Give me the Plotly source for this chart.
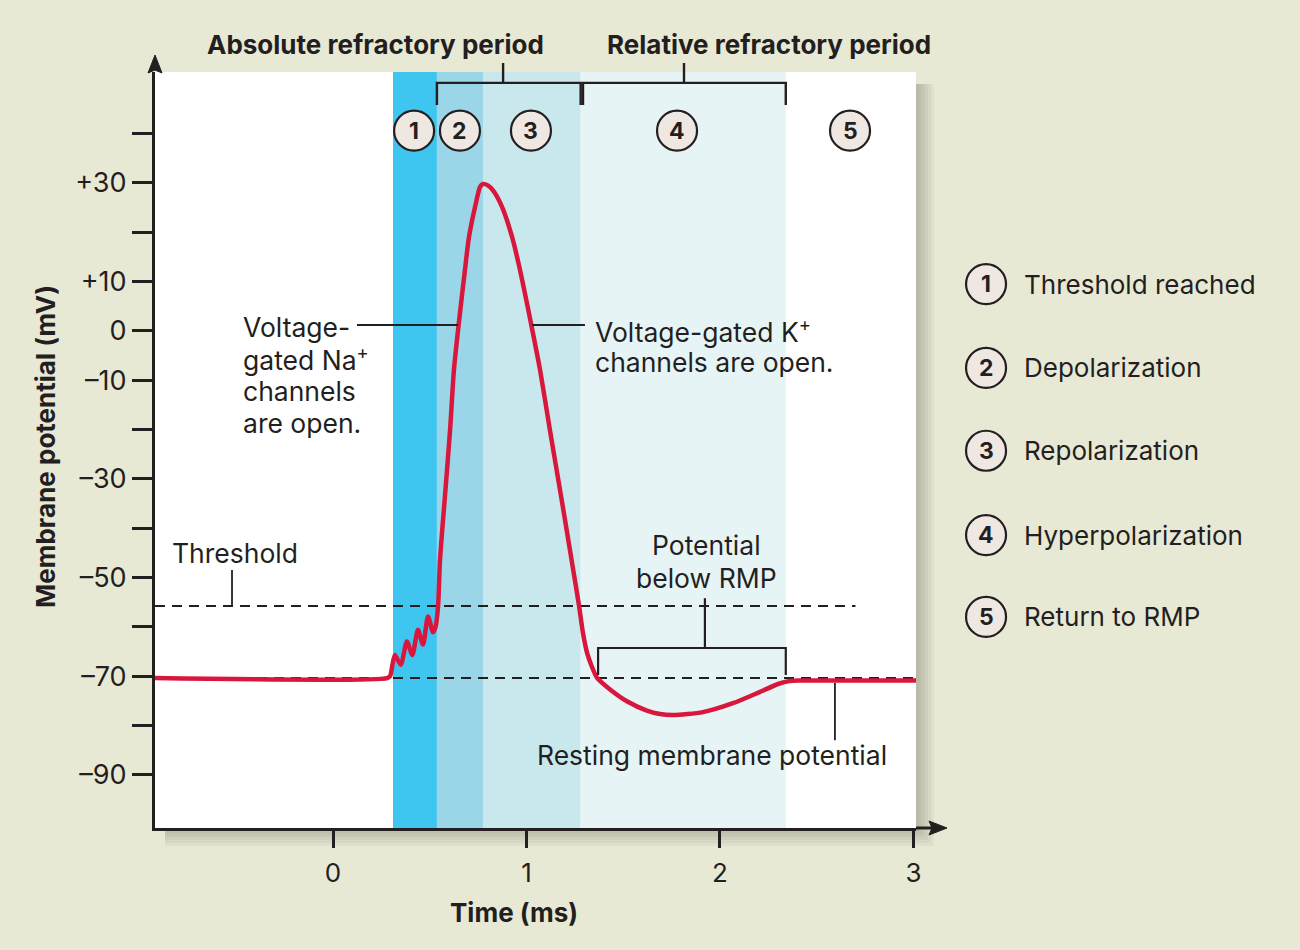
import plotly.graph_objects as go

# ---------------- data ----------------
time_ms = [-0.92, 0.28, 0.295, 0.308, 0.320, 0.350, 0.382, 0.410, 0.439, 0.465, 0.491, 0.517,
           0.530, 0.543, 0.553, 0.579, 0.605, 0.625, 0.648, 0.682, 0.703, 0.739, 0.760, 0.775,
           0.800, 0.827, 0.873, 0.925, 0.961, 1.028, 1.070, 1.121, 1.182, 1.239, 1.271, 1.292,
           1.313, 1.339, 1.364, 1.432, 1.519, 1.622, 1.690, 1.757, 1.912, 2.067, 2.207, 2.300,
           2.360, 2.420, 3.013]
membrane_mv = [-70.4, -70.4, -70.0, -67.5, -65.7, -67.7, -63.0, -65.7, -60.6, -63.6, -57.9, -61.1,
               -60.0, -55.8, -46.4, -33.3, -20.1, -7.9, 0.8, 12.4, 19.1, 26.0, 29.2, 29.8,
               29.5, 28.5, 25.2, 19.1, 13.3, 0.6, -7.9, -20.1, -34.3, -47.9, -55.6, -61.3,
               -65.3, -68.2, -70.3, -72.7, -75.1, -77.0, -77.7, -77.9, -77.3, -75.5, -73.2, -71.6,
               -71.0, -70.9, -70.9]

threshold_mv = -55.8
rmp_mv = -70.4

band_edges = [0.31, 0.537, 0.775, 1.28, 2.34]
band_colors = ["#3ec6f1", "#9ad6e8", "#c8e8ee", "#e6f4f6"]

phase_numbers = ["1", "2", "3", "4", "5"]
phase_x = [0.419, 0.656, 1.023, 1.778, 2.672]
phase_labels = ["Threshold reached", "Depolarization", "Repolarization",
                "Hyperpolarization", "Return to RMP"]

ytick_vals = [-90, -70, -50, -30, -10, 0, 10, 30]
ytick_text = ["\u201390", "\u201370", "\u201350", "\u201330", "\u201310", "0", "+10", "+30"]
ytick_minor = [-80, -60, -40, -20, 20, 40]
xtick_vals = [0, 1, 2, 3]

# ---------------- layout constants ----------------
W, H = 1300, 950
ML, MR, MT, MB = 155, 384, 72, 122
XR = [-0.92, 3.013]
YR = [-100.8, 52.5]
PW = W - ML - MR
PH = H - MT - MB

FONT = "Inter"
INK = "#231f20"
RED = "#d9173d"
BG = "#e8e9d5"
CIRCLE_FILL = "#efe8e2"


def fx(x):
    return (x - XR[0]) / (XR[1] - XR[0])


def fy(y):
    return (y - YR[0]) / (YR[1] - YR[0])


def dpx(p):  # pixel offset -> paper fraction (x)
    return p / PW


def dpy(p):
    return p / PH


fig = go.Figure()
shapes = []
annos = []

# drop shadow + white panel (paper-level, below)
for d in [3, 6, 9, 12, 15, 18]:
    shapes.append(dict(type="rect", xref="paper", yref="paper",
                       x0=dpx(10), x1=1 + dpx(d), y0=-dpy(d), y1=1 - dpy(12),
                       fillcolor="rgba(90,90,60,0.06)", line_width=0, layer="below"))
shapes.append(dict(type="rect", xref="paper", yref="paper", x0=0, x1=1, y0=0, y1=1,
                   fillcolor="white", line_width=0, layer="below"))

# phase bands
for i, c in enumerate(band_colors):
    shapes.append(dict(type="rect", xref="x", yref="paper", x0=band_edges[i], x1=band_edges[i + 1],
                       y0=0, y1=1, fillcolor=c, line_width=0, layer="below"))

# dashed reference lines
fig.add_trace(go.Scatter(x=[XR[0], 2.70], y=[threshold_mv, threshold_mv], mode="lines",
                         line=dict(color=INK, width=2, dash="10px,7px"), hoverinfo="skip"))
fig.add_trace(go.Scatter(x=[XR[0], XR[1]], y=[rmp_mv, rmp_mv], mode="lines",
                         line=dict(color=INK, width=2, dash="10px,7px"), hoverinfo="skip"))

# action potential
fig.add_trace(go.Scatter(x=time_ms, y=membrane_mv, mode="lines",
                         line=dict(color=RED, width=4.5, shape="spline", smoothing=0.7),
                         hoverinfo="skip"))


def circled(xp, yp, label):
    r = 20
    shapes.append(dict(type="circle", xref="paper", yref="paper",
                       x0=xp - dpx(r), x1=xp + dpx(r), y0=yp - dpy(r), y1=yp + dpy(r),
                       fillcolor=CIRCLE_FILL, line=dict(color=INK, width=2.2), layer="above"))
    annos.append(dict(x=xp, y=yp, xref="paper", yref="paper", text=f"<b>{label}</b>",
                      showarrow=False, xanchor="center", yanchor="middle",
                      font=dict(family=FONT, size=23, color=INK)))


# circled phase numbers in the plot
for n, xx in zip(phase_numbers, phase_x):
    circled(fx(xx), fy(40.6), n)

# legend (right side)
leg_y = [9.5, -7.5, -24.3, -41.4, -58.0]
leg_x = 3.375
for n, lbl, yy in zip(phase_numbers, phase_labels, leg_y):
    circled(fx(leg_x), fy(yy), n)
    annos.append(dict(x=fx(3.563), y=fy(yy), xref="paper", yref="paper", text=lbl,
                      showarrow=False, xanchor="left", yanchor="middle",
                      font=dict(family=FONT, size=26, color=INK)))

# leader lines inside plot
LW = 1.8
shapes += [
    dict(type="line", xref="x", yref="y", x0=-0.522, x1=-0.522, y0=-48.5, y1=threshold_mv,
         line=dict(color=INK, width=LW), layer="above"),
    dict(type="line", xref="x", yref="y", x0=0.124, x1=0.646, y0=1.2, y1=1.2,
         line=dict(color=INK, width=LW), layer="above"),
    dict(type="line", xref="x", yref="y", x0=1.03, x1=1.302, y0=1.2, y1=1.2,
         line=dict(color=INK, width=LW), layer="above"),
    dict(type="line", xref="x", yref="y", x0=2.594, x1=2.594, y0=-71.4, y1=-83.0,
         line=dict(color=INK, width=LW), layer="above"),
    # potential below RMP bracket
    dict(type="path", xref="x", yref="y",
         path="M 1.37 -69.8 L 1.37 -64.3 L 2.34 -64.3 L 2.34 -69.8",
         line=dict(color=INK, width=2.2), layer="above"),
    dict(type="line", xref="x", yref="y", x0=1.922, x1=1.922, y0=-64.3, y1=-54.2,
         line=dict(color=INK, width=2.2), layer="above"),
]


# top brackets (paper-level so they can go above the panel)
def bracket(xa, xb, xs):
    yh = fy(50.3)
    yt = fy(45.8)
    ys = 1 + dpy(9)
    return [
        dict(type="path", xref="paper", yref="paper",
             path=f"M {fx(xa)} {yt} L {fx(xa)} {yh} L {fx(xb)} {yh} L {fx(xb)} {yt}",
             line=dict(color=INK, width=2.4), layer="above"),
        dict(type="line", xref="paper", yref="paper", x0=fx(xs), x1=fx(xs), y0=yh, y1=ys,
             line=dict(color=INK, width=2.4), layer="above"),
    ]


shapes += bracket(0.537, 1.28, 0.879)
shapes += bracket(1.292, 2.34, 1.814)

annos.append(dict(x=fx(0.222), y=1 + dpy(27), xref="paper", yref="paper",
                  text="<b>Absolute refractory period</b>", showarrow=False,
                  xanchor="center", yanchor="middle", font=dict(family=FONT, size=26, color=INK)))
annos.append(dict(x=fx(2.253), y=1 + dpy(27), xref="paper", yref="paper",
                  text="<b>Relative refractory period</b>", showarrow=False,
                  xanchor="center", yanchor="middle", font=dict(family=FONT, size=26, color=INK)))

# in-plot texts
TF = dict(family=FONT, size=26.5, color=INK)
annos.append(dict(x=-0.842, y=-45.0, xref="x", yref="y", text="Threshold", showarrow=False,
                  xanchor="left", yanchor="middle", font=TF))
na_lines = ["Voltage-", "gated Na<sup>+</sup>", "channels", "are open."]
na_y = [0.8, -5.5, -12.2, -18.7]
for t, yy in zip(na_lines, na_y):
    annos.append(dict(x=-0.475, y=yy, xref="x", yref="y", text=t, showarrow=False,
                      xanchor="left", yanchor="middle", font=TF))
k_lines = ["Voltage-gated K<sup>+</sup>", "channels are open."]
k_y = [0.0, -6.3]
for t, yy in zip(k_lines, k_y):
    annos.append(dict(x=1.344, y=yy, xref="x", yref="y", text=t, showarrow=False,
                      xanchor="left", yanchor="middle", font=TF))
annos.append(dict(x=1.928, y=-43.4, xref="x", yref="y", text="Potential", showarrow=False,
                  xanchor="center", yanchor="middle", font=TF))
annos.append(dict(x=1.928, y=-50.1, xref="x", yref="y", text="below RMP", showarrow=False,
                  xanchor="center", yanchor="middle", font=TF))
annos.append(dict(x=1.959, y=-86.0, xref="x", yref="y", text="Resting membrane potential",
                  showarrow=False, xanchor="center", yanchor="middle", font=TF))

# axis titles
annos.append(dict(x=fx(0.936), y=-dpy(84), xref="paper", yref="paper", text="<b>Time (ms)</b>",
                  showarrow=False, xanchor="center", yanchor="middle",
                  font=dict(family=FONT, size=26, color=INK)))
annos.append(dict(x=-dpx(110), y=0.5 + dpy(3), xref="paper", yref="paper",
                  text="<b>Membrane potential (mV)</b>", textangle=-90,
                  showarrow=False, xanchor="center", yanchor="middle",
                  font=dict(family=FONT, size=26, color=INK)))

# axis arrowheads (filled triangles)
shapes.append(dict(type="line", xref="paper", yref="paper", x0=1, x1=1 + dpx(18), y0=0, y1=0,
                   line=dict(color=INK, width=3), layer="above"))
shapes.append(dict(type="path", xref="paper", yref="paper",
                   path=(f"M {1 + dpx(31)} 0 L {1 + dpx(13)} {dpy(7)} "
                         f"L {1 + dpx(16)} 0 L {1 + dpx(13)} {-dpy(7)} Z"),
                   fillcolor=INK, line=dict(color=INK, width=1), layer="above"))
shapes.append(dict(type="path", xref="paper", yref="paper",
                   path=(f"M 0 {1 + dpy(17)} L {dpx(7)} {1 - dpy(1)} "
                         f"L 0 {1 + dpy(2)} L {-dpx(7)} {1 - dpy(1)} Z"),
                   fillcolor=INK, line=dict(color=INK, width=1), layer="above"))

fig.update_layout(
    width=W, height=H,
    margin=dict(l=ML, r=MR, t=MT, b=MB),
    paper_bgcolor=BG, plot_bgcolor="rgba(0,0,0,0)",
    showlegend=False,
    shapes=shapes, annotations=annos,
    font=dict(family=FONT, color=INK),
    xaxis=dict(range=XR, showgrid=False, zeroline=False, showline=True, linewidth=3,
               linecolor=INK, ticks="outside", ticklen=17, tickwidth=3, tickcolor=INK,
               tickvals=xtick_vals, ticktext=[str(v) for v in xtick_vals],
               tickfont=dict(family=FONT, size=26, color=INK), ticklabelstandoff=3,
               fixedrange=True),
    yaxis=dict(range=YR, showgrid=False, zeroline=False, showline=True, linewidth=3,
               linecolor=INK, ticks="outside", ticklen=20, tickwidth=3, tickcolor=INK,
               tickvals=ytick_vals, ticktext=ytick_text,
               tickfont=dict(family=FONT, size=27, color=INK), ticklabelstandoff=0,
               minor=dict(tickmode="array", tickvals=ytick_minor, ticks="outside",
                          ticklen=20, tickwidth=3, tickcolor=INK, showgrid=False),
               fixedrange=True),
)

fig.write_html("out.html", config={"displayModeBar": False},
               post_script="document.body.style.margin='0';")
